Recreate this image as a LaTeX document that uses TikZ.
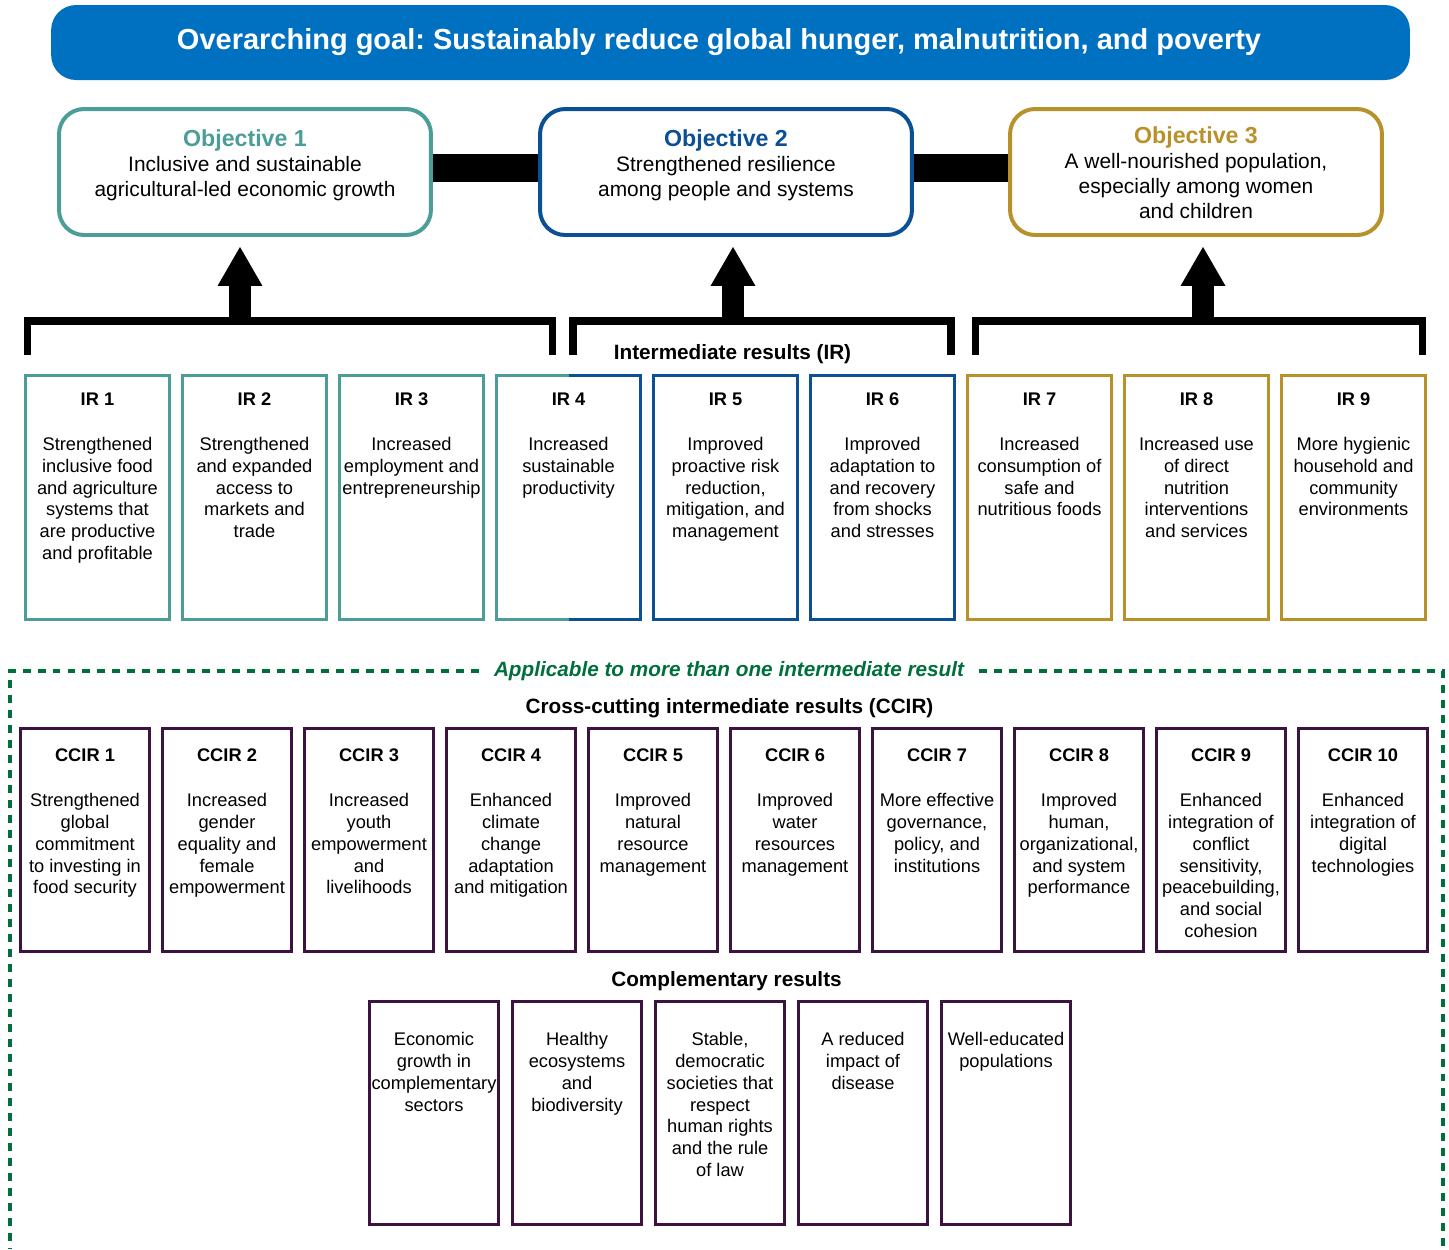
\documentclass[tikz,border=0pt]{standalone}
\usepackage{fontspec}
\setmainfont{Liberation Sans}
\usetikzlibrary{arrows.meta}

\definecolor{goalblue}{HTML}{0070C0}
\definecolor{tealc}{HTML}{4A9E97}
\definecolor{navyc}{HTML}{0B4F95}
\definecolor{goldc}{HTML}{B8912B}
\definecolor{plumc}{HTML}{3C1240}
\definecolor{greenc}{HTML}{006F3C}

\tikzset{
  goalbar/.style={fill=goalblue, rounded corners=0.5cm, minimum width=27.18cm, minimum height=1.5cm},
  goaltext/.style={text=white, font=\bfseries\fontsize{16.5pt}{18pt}\selectfont, inner sep=0pt},
  objbox/.style={draw, line width=2.27pt, rounded corners=0.5cm, minimum width=7.44cm, minimum height=2.52cm},
  objhead/.style={font=\bfseries\fontsize{13.2pt}{14.2pt}\selectfont, anchor=base, inner sep=0pt},
  objtext/.style={font=\fontsize{11.9pt}{14.2pt}\selectfont, align=center, anchor=north, inner sep=0pt},
  objlink/.style={line width=0.56cm},
  uparrow/.style={line width=0.44cm, -{Triangle[length=0.78cm,width=0.9cm,line width=0pt]}, shorten >=0.2cm},
  bracket/.style={line width=0.15cm, line join=miter},
  irbox/.style={draw, line width=1.7pt, minimum width=2.88cm, minimum height=4.88cm, inner sep=0pt, outer sep=0pt},
  ccbox/.style={draw=plumc, line width=1.7pt, minimum width=2.58cm, minimum height=4.46cm, inner sep=0pt, outer sep=0pt},
  boxhead/.style={font=\bfseries\fontsize{10.4pt}{12.5pt}\selectfont, anchor=base, inner sep=0pt},
  boxtext/.style={font=\fontsize{10.4pt}{12.5pt}\selectfont, align=center, anchor=north, inner sep=0pt},
  bighead/.style={font=\bfseries\fontsize{11.8pt}{14pt}\selectfont, anchor=base, inner sep=0pt},
  applhead/.style={font=\bfseries\itshape\fontsize{11.8pt}{14pt}\selectfont, text=greenc, inner xsep=0.3cm, inner ysep=0pt},
  frame/.style={draw=greenc, line width=2.27pt, dash pattern=on 4.5pt off 4pt}
}

\begin{document}
\frenchspacing
\begin{tikzpicture}[x=0.02cm, y=-0.02cm]
\useasboundingbox (0,0) rectangle (1449,1249);

\node[goalbar] (goal) at (730.5,42.5) {};
\node[goaltext] (goaltxt) at (719,42) {Overarching goal: Sustainably reduce global hunger, malnutrition, and poverty};

% objectives
\foreach \i/\xc/\col/\ty/\txt in {1/245/tealc/146/{Inclusive and sustainable\\agricultural-led economic growth},
    2/726/navyc/146/{Strengthened resilience\\among people and systems},
    3/1196/goldc/143/{A well-nourished population,\\especially among women\\and children}}{
  \node[objbox, draw=\col] (obj\i) at (\xc,172) {};
  \node[objhead, text=\col] (objt\i) at (\xc,\ty) {Objective \i};
  \node[objtext] (objb\i) at (\xc,\ty+10) {\txt};
}
\draw[objlink] ([yshift=0.08cm]obj1.east) -- ([yshift=0.08cm]obj2.west);
\draw[objlink] ([yshift=0.08cm]obj2.east) -- ([yshift=0.08cm]obj3.west);

% brackets and arrows
\foreach \l/\r in {27.5/552.5, 573/951, 975.5/1422.5}
  \draw[bracket] (\l,355) |- (\r,321) -- (\r,355);
\foreach \i/\xa in {1/240, 2/733, 3/1203}{
  \coordinate (foot\i) at (\xa,322);
  \draw[uparrow] (foot\i) -- (foot\i |- obj\i.south);
}

\node[bighead] (irtitle) at (732.5,359) {Intermediate results (IR)};

% intermediate results
\foreach \i/\col/\txt in {1/tealc/{Strengthened\\inclusive food\\and agriculture\\systems that\\are productive\\and profitable},
    2/tealc/{Strengthened\\and expanded\\access to\\markets and\\trade},
    3/tealc/{Increased\\employment and\\entrepreneurship},
    4/none/{Increased\\sustainable\\productivity},
    5/navyc/{Improved\\proactive risk\\reduction,\\mitigation, and\\management},
    6/navyc/{Improved\\adaptation to\\and recovery\\from shocks\\and stresses},
    7/goldc/{Increased\\consumption of\\safe and\\nutritious foods},
    8/goldc/{Increased use\\of direct\\nutrition\\interventions\\and services},
    9/goldc/{More hygienic\\household and\\community\\environments}}{
  \pgfmathsetmacro\xc{97.5+157*(\i-1)}
  \node[irbox, draw=\col] (ir\i) at (\xc,497.5) {};
  \node[boxhead] (irh\i) at (\xc,405.5) {IR \i};
  \node[boxtext] (irt\i) at (\xc,436.5) {\txt};
}
\draw[line width=1.7pt, tealc] (ir4.north) -- (ir4.north west) -- (ir4.south west) -- (ir4.south);
\draw[line width=1.7pt, navyc] (ir4.north) -- (ir4.north east) -- (ir4.south east) -- (ir4.south);

% cross-cutting
\node[applhead] (appl) at (729,671) {Applicable to more than one intermediate result};
\draw[frame] (appl.west) -- (10,671) -- (10,1249);
\draw[frame] (appl.east) -- (1443,671) -- (1443,1249);

\node[bighead] (cctitle) at (729.5,713) {Cross-cutting intermediate results (CCIR)};

\foreach \i/\txt in {1/{Strengthened\\global\\commitment\\to investing in\\food security},
    2/{Increased\\gender\\equality and\\female\\empowerment},
    3/{Increased\\youth\\empowerment\\and\\livelihoods},
    4/{Enhanced\\climate\\change\\adaptation\\and mitigation},
    5/{Improved\\natural\\resource\\management},
    6/{Improved\\water\\resources\\management},
    7/{More effective\\governance,\\policy, and\\institutions},
    8/{Improved\\human,\\organizational,\\and system\\performance},
    9/{Enhanced\\integration of\\conflict\\sensitivity,\\peacebuilding,\\and social\\cohesion},
    10/{Enhanced\\integration of\\digital\\technologies}}{
  \pgfmathsetmacro\xc{85+142*(\i-1)}
  \node[ccbox] (ccir\i) at (\xc,840) {};
  \node[boxhead] (ccirh\i) at (\xc,761.5) {CCIR \i};
  \node[boxtext] (ccirt\i) at (\xc,792.5) {\txt};
}

% complementary
\node[bighead] (comptitle) at (726.5,986) {Complementary results};

\foreach \i/\txt in {1/{Economic\\growth in\\complementary\\sectors},
    2/{Healthy\\ecosystems\\and\\biodiversity},
    3/{Stable,\\democratic\\societies that\\respect\\human rights\\and the rule\\of law},
    4/{A reduced\\impact of\\disease},
    5/{Well-educated\\populations}}{
  \pgfmathsetmacro\xc{434+143*(\i-1)}
  \node[ccbox] (comp\i) at (\xc,1113) {};
  \node[boxtext] (compt\i) at (\xc,1031.5) {\txt};
}
\end{tikzpicture}
\end{document}
